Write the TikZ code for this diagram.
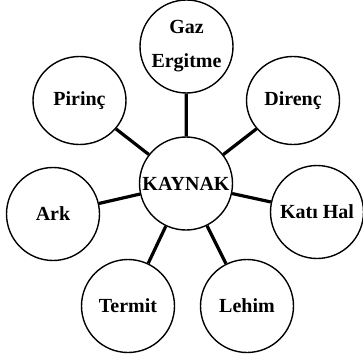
\documentclass[tikz,border=0pt]{standalone}
\usepackage{fontspec}
\setmainfont{Liberation Serif}
\usetikzlibrary{shapes.geometric}
\begin{document}
\begin{tikzpicture}[x=1pt,y=-1pt,
  bub/.style={circle,draw,line width=1.4pt,minimum size=93pt,inner sep=0pt,
    font=\fontsize{20}{34}\selectfont\bfseries,align=center},
  ebub/.style={bub,ellipse,minimum width=93pt,minimum height=88pt},
  link/.style={line width=3.2pt}]
\useasboundingbox (0,0) rectangle (363,358);
\node[bub] (k) at (186,183.5) {KAYNAK};
\node[bub] (gaz) at (186.5,46.5) {Gaz\\Ergitme};
\node[ebub] (pir) at (79.5,100.5) {Pirinç};
\node[ebub] (dir) at (293,100.5) {Direnç};
\node[bub] (ark) at (53,214) {Ark};
\node[bub] (kat) at (317,212) {Katı Hal};
\node[bub] (ter) at (128,306) {Termit};
\node[bub] (leh) at (247,306) {Lehim};
\foreach \n in {gaz,pir,dir,ark,kat,ter,leh}
  \draw[link] (k) -- (\n);
\end{tikzpicture}
\end{document}
